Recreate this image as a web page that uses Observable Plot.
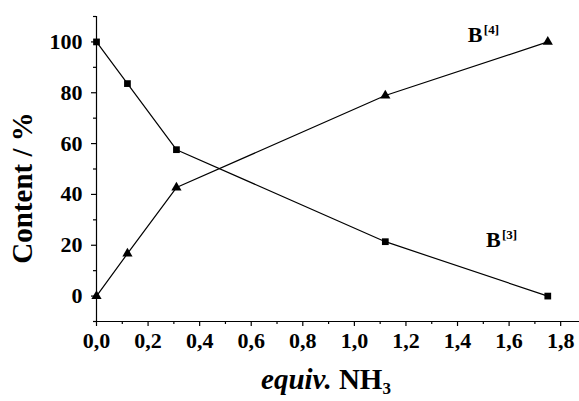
<!DOCTYPE html>
<html>
<head>
<meta charset="utf-8">
<script src="https://cdn.jsdelivr.net/npm/d3@7"></script>
<script src="https://cdn.jsdelivr.net/npm/@observablehq/plot@0.6"></script>
<style>
  html, body { margin: 0; padding: 0; background: #fff; }
  #chart svg { display: block; }
  #chart svg text { font-family: "Liberation Serif", "Times New Roman", serif !important; }
</style>
</head>
<body>
<div id="chart"></div>
<script>
// Data
const equiv = [0, 0.12, 0.31, 1.12, 1.75];
const b3 = [100, 83.6, 57.6, 21.4, 0];
const b4 = [0, 16.7, 42.7, 78.9, 100];

const xMajor = [0, 0.2, 0.4, 0.6, 0.8, 1.0, 1.2, 1.4, 1.6, 1.8];
const xMinor = [0.1, 0.3, 0.5, 0.7, 0.9, 1.1, 1.3, 1.5, 1.7];
const yMajor = [0, 20, 40, 60, 80, 100];
const yMinor = [-10, 10, 30, 50, 70, 90, 110];

const labelNames = ["B", "B"];
const labelSups = ["[4]", "[3]"];
const labelX = [1.44, 1.51];
const labelY = [100, 19.5];

const rowsB3 = equiv.map((x, i) => ({x, y: b3[i]}));
const rowsB4 = equiv.map((x, i) => ({x, y: b4[i]}));
const labels = labelNames.map((t, i) => ({x: labelX[i], y: labelY[i], t, s: labelSups[i]}));

const font = "Liberation Serif";
const fmt = d => d3.format(".1f")(d).replace(".", ",");

const chart = Plot.plot({
  width: 579,
  height: 401,
  marginLeft: 96,
  marginRight: 0,
  marginTop: 16,
  marginBottom: 80,
  style: {fontFamily: font, fontWeight: "bold", background: "#fff", color: "#000"},
  x: {domain: [0, 1.873], label: null},
  y: {domain: [-10, 110], label: null},
  marks: [
    Plot.ruleX([0], {stroke: "#000", strokeWidth: 1.2}),
    Plot.ruleY([-10], {stroke: "#000", strokeWidth: 1.2}),
    Plot.axisY({ticks: yMajor, tickSize: 5, tickPadding: 9, fontSize: 22, fontWeight: "bold", fontFamily: font, tickFormat: d => String(d), strokeWidth: 1.2}),
    Plot.axisY({ticks: yMinor, tickSize: 3, text: null, strokeWidth: 1.2}),
    Plot.axisX({ticks: xMajor, tickSize: 5, tickPadding: 6, fontSize: 22, fontWeight: "bold", fontFamily: font, tickFormat: fmt, strokeWidth: 1.2}),
    Plot.axisX({ticks: xMinor, tickSize: 3, text: null, strokeWidth: 1.2}),
    Plot.line(rowsB3, {x: "x", y: "y", stroke: "#000", strokeWidth: 1.2}),
    Plot.line(rowsB4, {x: "x", y: "y", stroke: "#000", strokeWidth: 1.2}),
    Plot.dot(rowsB3, {x: "x", y: "y", symbol: "square", r: 3.8, fill: "#000", stroke: "none"}),
    Plot.dot(rowsB4, {x: "x", y: "y", symbol: "triangle", r: 3.8, fill: "#000", stroke: "none"}),
    Plot.text(labels, {x: "x", y: "y", text: "t", textAnchor: "start", lineAnchor: "bottom", fontSize: 22, fontWeight: "bold", fontFamily: font, fill: "#000"}),
    Plot.text(labels, {x: "x", y: "y", text: "s", textAnchor: "start", lineAnchor: "bottom", dx: 16, dy: -8, fontSize: 13, fontWeight: "bold", fontFamily: font, fill: "#000"})
  ]
});

const svg = d3.select(chart);
// y axis title
svg.append("text")
  .attr("transform", "translate(32,188) rotate(-90)")
  .attr("text-anchor", "middle")
  .attr("font-family", font)
  .attr("font-weight", "bold")
  .attr("font-size", 29)
  .attr("fill", "#000")
  .text("Content / %");
// x axis title
const xt = svg.append("text")
  .attr("x", 326)
  .attr("y", 389)
  .attr("text-anchor", "middle")
  .attr("font-family", font)
  .attr("font-weight", "bold")
  .attr("font-size", 29)
  .attr("fill", "#000");
xt.append("tspan").attr("font-style", "italic").text("equiv.");
xt.append("tspan").text(" NH");
xt.append("tspan").attr("font-size", 17).attr("dy", 5).text("3");

document.getElementById("chart").appendChild(chart);
</script>
</body>
</html>
